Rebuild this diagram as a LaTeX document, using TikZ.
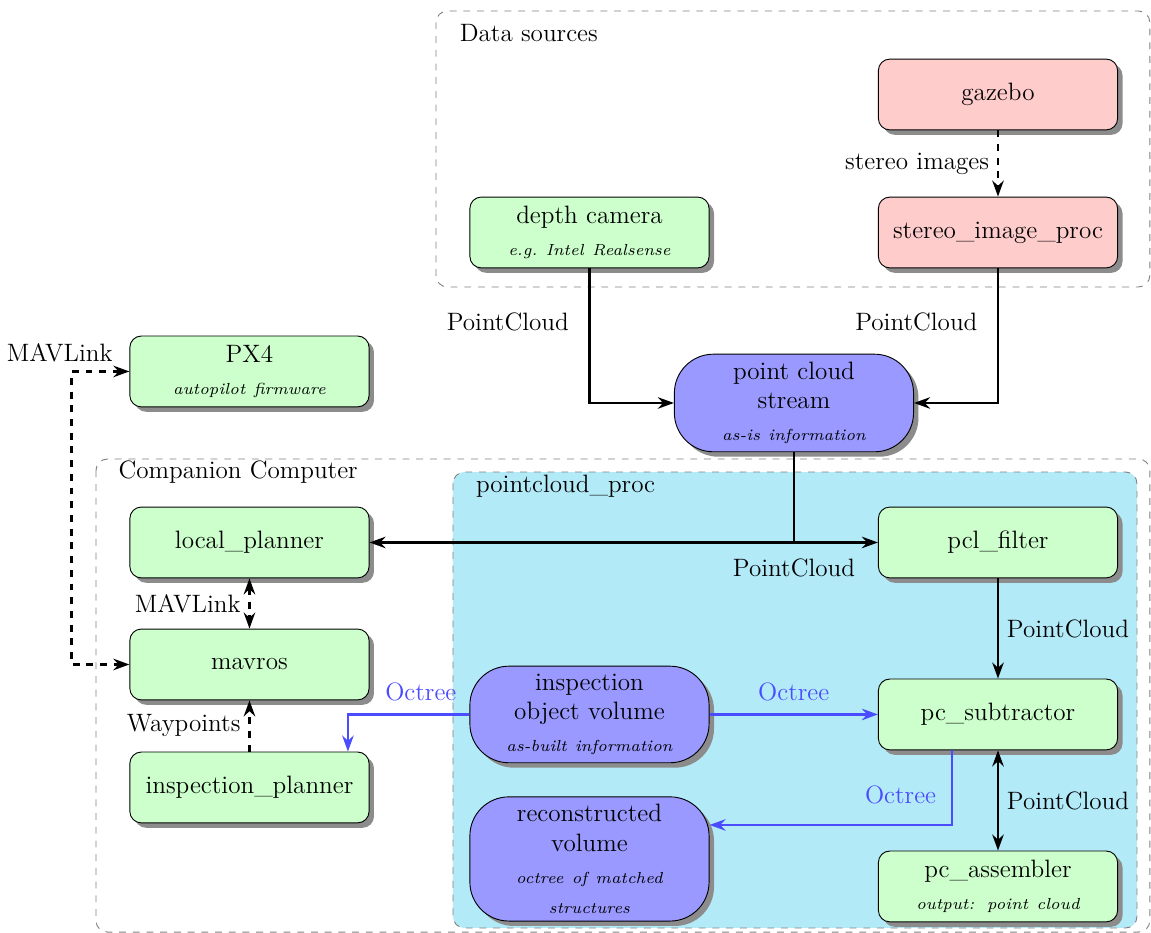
\documentclass[tikz,border=0pt]{standalone}
\usepackage{tikz}
\usetikzlibrary{arrows.meta,positioning,shadows}
\definecolor{vertclair}{HTML}{CCFFCC}
\definecolor{roseclair}{HTML}{FFCCCC}
\definecolor{violet}{HTML}{9999FF}
\definecolor{cyanclair}{HTML}{B3EAF8}
\definecolor{bleuoct}{HTML}{4B4BFF}
\newcommand{\soustitre}[1]{{\scriptsize\itshape #1}}

\begin{document}
\begin{tikzpicture}[
    font=\fontsize{11}{13}\selectfont,
    bloc/.style={rectangle, rounded corners=5pt, draw=black, fill=vertclair,
      drop shadow={fill=black!45, opacity=1}, minimum width=3.68cm, minimum height=1.09cm,
      text width=3.3cm, align=center},
    simu/.style={bloc, fill=roseclair},
    volume/.style={bloc, fill=violet, rounded corners=0.6cm},
    cadre/.style={draw=gray, dashed, rounded corners=5pt},
    fleche/.style={-{Stealth[length=7pt,width=5pt]}, very thick},
    fleche2/.style={{Stealth[length=7pt,width=5pt]}-{Stealth[length=7pt,width=5pt]}, very thick},
    octree/.style={fleche, draw=bleuoct, text=bleuoct}
  ]
    \useasboundingbox (0,0) rectangle (17.708,-14.354);

    % groupes
    \draw[cadre] (6.708,-0.169) rectangle (17.69,-4.415);
    \node[anchor=west] (lsources) at (6.95,-0.508) {Data sources};
    \draw[cadre] (1.477,-7.062) rectangle (17.69,-14.34);
    \node[anchor=west] (lcompanion) at (1.70,-7.262) {Companion Computer};
    \draw[cadre, fill=cyanclair] (6.969,-7.262) rectangle (17.492,-14.277);
    \node[anchor=west] (lproc) at (7.20,-7.477) {pointcloud\_proc};

    \node[simu] (gazebo) at (15.354,-1.454) {gazebo};
    \node[simu] (stereo) at (15.354,-3.577) {stereo\_image\_proc};
    \node[bloc] (depth) at (9.069,-3.577) {depth camera\\[1pt] \soustitre{e.g.\ Intel Realsense}};
    \node[bloc] (px4) at (3.838,-5.715) {PX4\\[1pt] \soustitre{autopilot firmware}};
    \node[volume, minimum height=1.446cm] (pcs) at (12.215,-6.2) {point cloud\\stream\\[1pt] \soustitre{as-is information}};

    \node[bloc] (local) at (3.838,-8.346) {local\_planner};
    \node[bloc] (mavros) at (3.838,-10.223) {mavros};
    \node[bloc] (insp) at (3.838,-12.115) {inspection\_planner};

    \node[bloc] (pclf) at (15.354,-8.346) {pcl\_filter};
    \node[bloc] (pcsub) at (15.354,-10.992) {pc\_subtractor};
    \node[bloc] (pcass) at (15.354,-13.638) {pc\_assembler\\[1pt] \soustitre{output: point cloud}};
    \node[volume, minimum height=1.46cm] (iov) at (9.069,-10.992) {inspection\\object volume\\[1pt] \soustitre{as-built information}};
    \node[volume, minimum height=1.815cm] (recon) at (9.069,-13.215) {reconstructed\\volume\\[1pt] \soustitre{octree of matched}\\ \soustitre{structures}};

    \draw[fleche, dashed] (gazebo) -- node[left] {stereo images} (stereo);
    \draw[fleche] (depth.south) |- node[pos=0.2, left=0.18cm] {PointCloud} (pcs.west);
    \draw[fleche] (stereo.south) |- node[pos=0.2, left=0.18cm] {PointCloud} (pcs.east);

    \coordinate (jonction) at (pcs.south |- pclf.west);
    \draw[very thick] (pcs.south) -- (jonction) node[below=3pt] {PointCloud};
    \draw[fleche] (jonction) -- (local.east);
    \draw[fleche] (jonction) -- (pclf.west);

    \draw[fleche] (pclf) -- node[right] {PointCloud} (pcsub);
    \draw[fleche2] (pcsub) -- node[right] {PointCloud} (pcass);
    \draw[octree] (iov) -- node[above=2pt] {Octree} (pcsub);
    \draw[octree] ([xshift=-0.708cm]pcsub.south) |- node[pos=0.3, left=3pt] {Octree} ([yshift=0.523cm]recon.east);
    \draw[octree] (iov.west) -| node[pos=0.2, above=2pt] {Octree} ([xshift=1.515cm]insp.north);

    \draw[fleche2, dashed] (local) -- node[left] {MAVLink} (mavros);
    \draw[fleche, dashed] (insp) -- node[left] {Waypoints} (mavros);
    \draw[fleche2, dashed] (px4.west) -- ++(-0.892,0) node[above, xshift=-0.18cm] {MAVLink} |- (mavros.west);
  \end{tikzpicture}
\end{document}
